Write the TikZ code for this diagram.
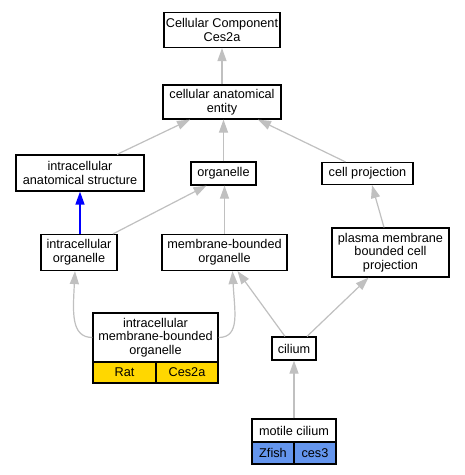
\documentclass[tikz,border=0pt]{standalone}
\usepackage{fontspec}
\setmainfont{Liberation Sans}
\usetikzlibrary{arrows.meta}
\definecolor{edgegray}{RGB}{192,192,192}
\definecolor{goldrow}{RGB}{255,215,0}
\definecolor{bluerow}{RGB}{100,149,237}
\definecolor{blueedge}{RGB}{0,0,255}
\begin{document}
\begin{tikzpicture}[x=1pt,y=-1pt,
  box/.style={draw=black, line width=1.2pt, fill=white, rectangle, inner sep=0pt, align=center,
    font=\fontsize{12.7}{13.7}\selectfont},
  cell/.style={box, minimum height=21pt},
  edge/.style={draw=edgegray, line width=1.2pt, -{Triangle[length=13pt,width=9pt]}},
  isaedge/.style={draw=blueedge, line width=1.5pt, -{Triangle[length=13pt,width=9pt]}},
  ]
\fill[white] (0,0) rectangle (465,475);
\useasboundingbox (0,0) rectangle (465,475);

\node[box, minimum width=116pt, minimum height=35pt] (top) at (222,30) {Cellular Component\\Ces2a};
\node[box, minimum width=118pt, minimum height=34pt] (cae) at (222,102) {cellular anatomical\\entity};
\node[box, minimum width=128pt, minimum height=36pt] (ias) at (80,173) {intracellular\\anatomical structure};
\node[box, minimum width=65pt, minimum height=23pt] (org) at (223.5,173.5) {organelle};
\node[box, minimum width=91pt, minimum height=22pt] (cp) at (367.5,173.5) {cell projection};
\node[box, minimum width=76pt, minimum height=36pt] (io) at (79,252.5) {intracellular\\organelle};
\node[box, minimum width=125pt, minimum height=36pt] (mbo) at (224.5,252.5) {membrane-bounded\\organelle};
\node[box, minimum width=117pt, minimum height=49pt] (pm) at (390.5,252.5) {plasma membrane\\bounded cell\\projection};
\node[box, minimum width=125pt, minimum height=49pt] (imo) at (155.5,337.5) {intracellular\\membrane-bounded\\organelle};
\node[cell, fill=goldrow, minimum width=63pt] (imorat) at (124.5,372.5) {Rat};
\node[cell, fill=goldrow, minimum width=62pt] (imoces) at (187,372.5) {Ces2a};
\node[box, minimum width=44pt, minimum height=23pt] (cil) at (294,348.5) {cilium};
\node[box, minimum width=84pt, minimum height=23pt] (mc) at (294,430.5) {motile cilium};
\node[cell, fill=bluerow, minimum width=42pt, minimum height=22pt] (mczf) at (273,453) {Zfish};
\node[cell, fill=bluerow, minimum width=42pt, minimum height=22pt] (mcces) at (315,453) {ces3};

\draw[edge] (cae.north) -- (top.south);
\draw[edge] ([xshift=37pt]ias.north) -- ([xshift=-32pt]cae.south);
\draw[edge] (org.north) -- (org.north |- cae.south);
\draw[edge] ([xshift=-22pt]cp.north) -- ([xshift=36pt]cae.south);
\draw[isaedge] (ias.south |- io.north) -- (ias.south);
\draw[edge] ([xshift=34pt]io.north) -- ([xshift=-17pt]org.south);
\draw[edge] (mbo.north) -- (mbo.north |- org.south);
\draw[edge] ([xshift=-6.5pt]pm.north) -- ([xshift=4.5pt]cp.south);
\draw[edge] (imo.west) .. controls +(-22,0) and +(-2,40) .. ([xshift=-4pt]io.south);
\draw[edge] (imo.east) .. controls +(22,0) and +(2,40) .. ([xshift=8pt]mbo.south);
\draw[edge] ([xshift=-9pt]cil.north) -- ([xshift=13pt]mbo.south);
\draw[edge] ([xshift=13pt]cil.north) -- ([xshift=-22pt]pm.south);
\draw[edge] (mc.north) -- (cil.south);
\end{tikzpicture}
\end{document}
